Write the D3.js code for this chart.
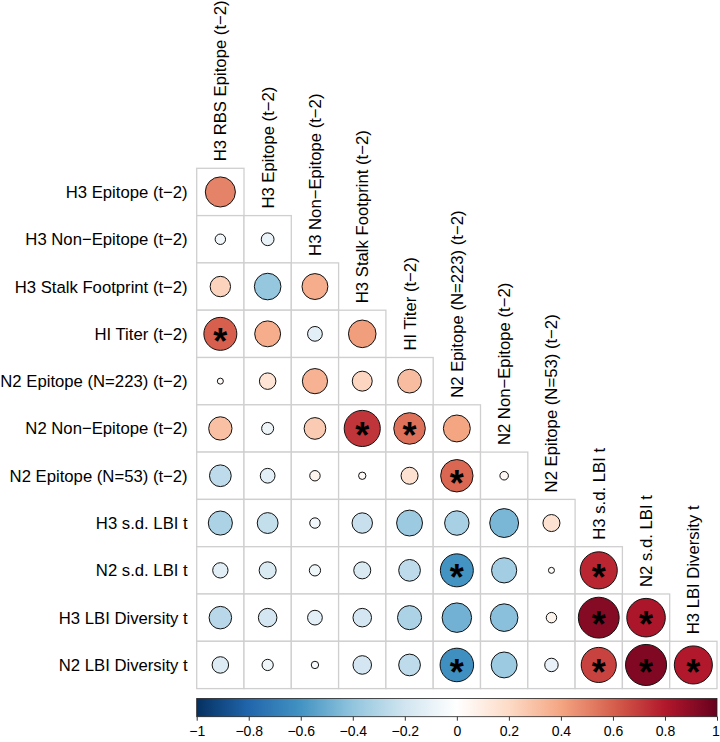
<!DOCTYPE html>
<html>
<head>
<meta charset="utf-8">
<script src="https://cdn.jsdelivr.net/npm/d3@7"></script>
<style>
  body { margin: 0; background: #fff; }
  svg { display: block; font-family: "Liberation Sans", Arial, Helvetica, sans-serif; }
</style>
</head>
<body>
<div id="chart"></div>
<script>
const rowLabels = [
    "H3 Epitope (t−2)", "H3 Non−Epitope (t−2)", "H3 Stalk Footprint (t−2)", "HI Titer (t−2)",
    "N2 Epitope (N=223) (t−2)", "N2 Non−Epitope (t−2)", "N2 Epitope (N=53) (t−2)",
    "H3 s.d. LBI t", "N2 s.d. LBI t", "H3 LBI Diversity t", "N2 LBI Diversity t"
];
const colLabels = [
    "H3 RBS Epitope (t−2)", "H3 Epitope (t−2)", "H3 Non−Epitope (t−2)", "H3 Stalk Footprint (t−2)",
    "HI Titer (t−2)", "N2 Epitope (N=223) (t−2)", "N2 Non−Epitope (t−2)", "N2 Epitope (N=53) (t−2)",
    "H3 s.d. LBI t", "N2 s.d. LBI t", "H3 LBI Diversity t"
];

// lower triangle, row i has columns 0..i
const corrValues = [
    [0.50],
    [-0.06, -0.09],
    [0.23, -0.39, 0.37],
    [0.60, 0.37, -0.12, 0.42],
    [0.02, 0.15, 0.35, 0.22, 0.31],
    [0.30, -0.08, 0.26, 0.72, 0.55, 0.40],
    [-0.26, -0.12, 0.06, 0.03, 0.16, 0.58, 0.04],
    [-0.32, -0.24, -0.06, -0.23, -0.37, -0.33, -0.46, 0.16],
    [-0.13, -0.16, -0.07, -0.16, -0.26, -0.60, -0.35, 0.02, 0.76],
    [-0.28, -0.19, -0.12, -0.19, -0.32, -0.48, -0.42, 0.06, 0.92, 0.82],
    [-0.15, -0.07, -0.03, -0.19, -0.26, -0.62, -0.37, -0.10, 0.68, 0.93, 0.80]
];

// 1 = significant (marked with *)
const significant = [
    [0],
    [0, 0],
    [0, 0, 0],
    [1, 0, 0, 0],
    [0, 0, 0, 0, 0],
    [0, 0, 0, 1, 1, 0],
    [0, 0, 0, 0, 0, 1, 0],
    [0, 0, 0, 0, 0, 0, 0, 0],
    [0, 0, 0, 0, 0, 1, 0, 0, 1],
    [0, 0, 0, 0, 0, 0, 0, 0, 1, 1],
    [0, 0, 0, 0, 0, 1, 0, 0, 1, 1, 1]
];

const legendTicks = [-1, -0.8, -0.6, -0.4, -0.2, 0, 0.2, 0.4, 0.6, 0.8, 1];
const rdbuColors = ["#053061", "#2166AC", "#4393C3", "#92C5DE", "#D1E5F0", "#FFFFFF",
                    "#FDDBC7", "#F4A582", "#D6604D", "#B2182B", "#67001F"];

const width = 720, height = 742;
const cell = 47.3;
const gridLeft = 196.7, gridTop = 168.3;
const labelSize = 16.7;

const svg = d3.select("#chart").append("svg")
    .attr("width", width)
    .attr("height", height);

const x = d3.scaleBand()
    .domain(colLabels)
    .range([gridLeft, gridLeft + cell * colLabels.length]);

const y = d3.scaleBand()
    .domain(rowLabels)
    .range([gridTop, gridTop + cell * rowLabels.length]);

const color = d3.scaleLinear()
    .domain(d3.range(rdbuColors.length).map(i => -1 + i * 2 / (rdbuColors.length - 1)))
    .range(rdbuColors);

const radius = d3.scaleSqrt()
    .domain([0, 1])
    .range([0, 0.45 * cell]);

// flatten the triangle
const cells = [];
corrValues.forEach((row, i) => {
    row.forEach((v, j) => {
        cells.push({ row: rowLabels[i], col: colLabels[j], value: v, sig: significant[i][j] === 1 });
    });
});

// grid
svg.append("g").selectAll("rect")
    .data(cells)
    .enter()
    .append("rect")
    .attr("x", d => x(d.col))
    .attr("y", d => y(d.row))
    .attr("width", x.bandwidth())
    .attr("height", y.bandwidth())
    .attr("fill", "white")
    .attr("stroke", "#cfcfcf")
    .attr("stroke-width", 1.3);

// circles
svg.append("g").selectAll("circle")
    .data(cells)
    .enter()
    .append("circle")
    .attr("cx", d => x(d.col) + x.bandwidth() / 2)
    .attr("cy", d => y(d.row) + y.bandwidth() / 2)
    .attr("r", d => radius(Math.abs(d.value)))
    .attr("fill", d => color(d.value))
    .attr("stroke", "#111")
    .attr("stroke-width", 1);

// significance stars
const starSize = 36;
svg.append("g").selectAll("text")
    .data(cells.filter(d => d.sig))
    .enter()
    .append("text")
    .attr("x", d => x(d.col) + x.bandwidth() / 2)
    .attr("y", d => y(d.row) + y.bandwidth() / 2 + starSize * 0.55)
    .attr("text-anchor", "middle")
    .style("font-size", starSize + "px")
    .style("font-weight", "bold")
    .style("fill", "black")
    .text("*");

// row labels
svg.append("g").selectAll("text")
    .data(rowLabels)
    .enter()
    .append("text")
    .attr("x", gridLeft - 9)
    .attr("y", d => y(d) + y.bandwidth() / 2)
    .attr("dy", "0.36em")
    .attr("text-anchor", "end")
    .style("font-size", labelSize + "px")
    .text(d => d);

// column labels, sitting on top of each column's first cell
svg.append("g").selectAll("text")
    .data(colLabels)
    .enter()
    .append("text")
    .attr("transform", (d, j) => `translate(${x(d) + x.bandwidth() / 2},${y(rowLabels[j]) - 7}) rotate(-90)`)
    .attr("dy", "0.36em")
    .attr("text-anchor", "start")
    .style("font-size", labelSize + "px")
    .text(d => d);

// colour legend
const legendTop = 698.5, legendHeight = 18.2;
const legendScale = d3.scaleLinear()
    .domain([-1, 1])
    .range([gridLeft, gridLeft + cell * colLabels.length]);

const grad = svg.append("defs").append("linearGradient")
    .attr("id", "rdbu")
    .attr("x1", "0%").attr("x2", "100%");
grad.selectAll("stop")
    .data(d3.range(0, 1.0001, 0.02))
    .enter()
    .append("stop")
    .attr("offset", d => (d * 100) + "%")
    .attr("stop-color", d => color(-1 + 2 * d));

svg.append("rect")
    .attr("x", legendScale(-1))
    .attr("y", legendTop)
    .attr("width", legendScale(1) - legendScale(-1))
    .attr("height", legendHeight)
    .attr("fill", "url(#rdbu)")
    .attr("stroke", "#222")
    .attr("stroke-width", 0.8);

const legendAxis = svg.append("g")
    .attr("transform", `translate(0,${legendTop + legendHeight})`)
    .call(d3.axisBottom(legendScale)
        .tickValues(legendTicks)
        .tickSize(4)
        .tickPadding(5)
        .tickFormat(d3.format("")));

legendAxis.select(".domain").remove();
legendAxis.selectAll("line").attr("stroke", "#333");
legendAxis.selectAll("text")
    .style("font-size", "14px")
    .style("font-family", "\"Liberation Sans\", Arial, Helvetica, sans-serif")
    .attr("fill", "black")
    .attr("dx", d => d === 1 ? -1.5 : 0);
</script>
</body>
</html>
